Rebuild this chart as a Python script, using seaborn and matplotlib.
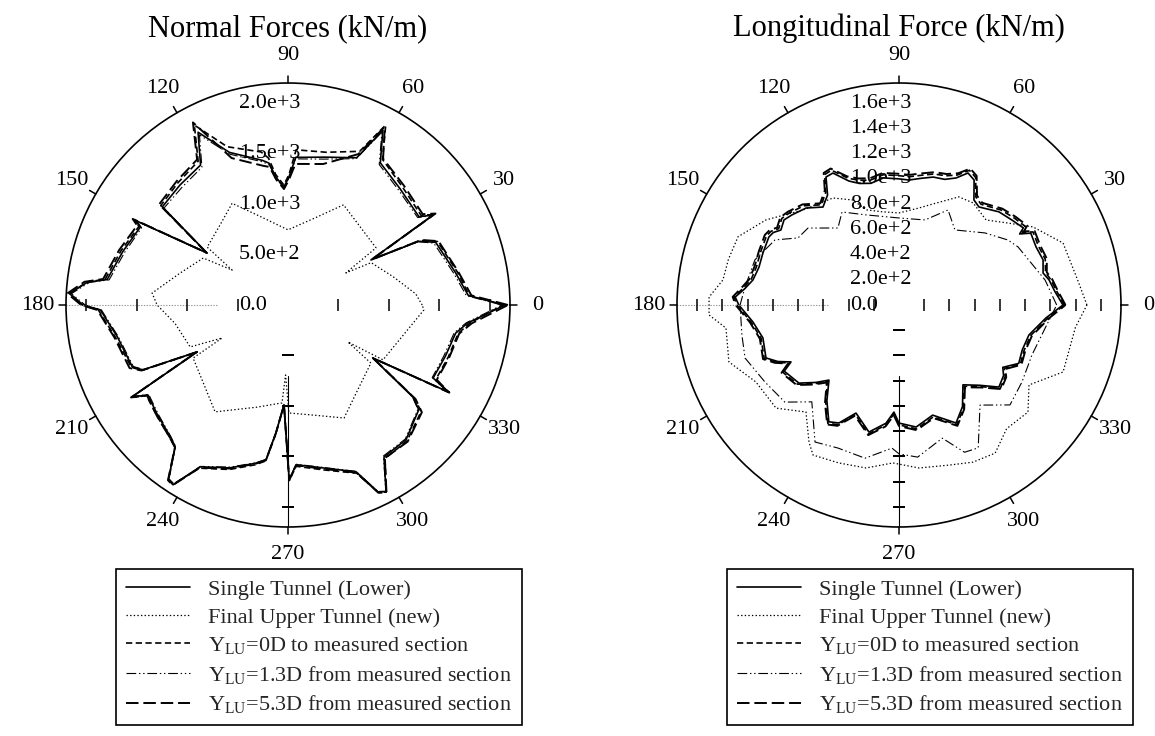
import numpy as np
import matplotlib
matplotlib.use("Agg")
import matplotlib.pyplot as plt
from matplotlib.lines import Line2D
from matplotlib.transforms import offset_copy
import seaborn as sns

# ---------------- Normal forces (kN/m) ----------------
N_ANG = [0, 3, 11, 23, 26, 28.5, 31.8, 34, 46, 57,
         61.5, 65, 76, 87, 89.6, 92, 95.4, 97.6, 100, 111,
         117.5, 122, 132, 142, 147.3, 151, 152.2, 162, 172, 173.5,
         177, 180, 181.5, 190.6, 201.7, 204.1, 207.3, 210.5, 212.7, 220,
         228.2, 231.5, 235.6, 237.4, 241.5, 250.4, 258.5, 261.9, 264.6, 267.7,
         270.4, 272.9, 282, 292.2, 295.7, 297.7, 302.3, 311.2, 321.3, 323.6,
         328, 331.5, 333.3, 342, 350.5, 354.3, 360]
N_SINGLE = [2150, 1790, 1690, 1590, 1440, 935, 1690, 1565, 1600, 1680,
            1970, 1610, 1510, 1465, 1267, 1170, 1273, 1418, 1455, 1620,
            1930, 1635, 1600, 1580, 955, 1730, 1655, 1720, 1810, 2000,
            2170, 2030, 1860, 1720, 1660, 1575, 1015, 1795, 1650, 1690,
            1750, 1795, 2100, 2115, 1825, 1713, 1600, 1550, 1275, 990,
            1733, 1585, 1650, 1785, 2055, 2090, 1780, 1775, 1660, 1540,
            990, 1800, 1610, 1640, 1685, 1790, 2150]
N_ZERO = [2130, 1800, 1710, 1610, 1460, 950, 1700, 1590, 1630, 1720,
          2030, 1680, 1560, 1540, 1290, 1190, 1300, 1470, 1540, 1680,
          2010, 1680, 1630, 1600, 960, 1740, 1670, 1740, 1830, 2010,
          2160, 2040, 1880, 1740, 1670, 1585, 1020, 1800, 1665, 1700,
          1760, 1800, 2090, 2105, 1840, 1730, 1615, 1560, 1280, 995,
          1740, 1600, 1670, 1800, 2060, 2095, 1800, 1790, 1690, 1560,
          1000, 1810, 1640, 1670, 1710, 1810, 2130]
N_13D = [2120, 1770, 1670, 1570, 1430, 940, 1680, 1550, 1580, 1660,
         1950, 1600, 1490, 1450, 1255, 1160, 1265, 1400, 1440, 1600,
         1900, 1610, 1570, 1560, 950, 1710, 1640, 1700, 1790, 1980,
         2150, 2010, 1850, 1710, 1650, 1565, 1010, 1785, 1640, 1680,
         1745, 1790, 2095, 2110, 1820, 1705, 1595, 1545, 1270, 990,
         1730, 1580, 1645, 1780, 2050, 2085, 1770, 1765, 1650, 1530,
         990, 1795, 1600, 1625, 1670, 1775, 2120]
N_53D = [2180, 1820, 1720, 1620, 1470, 945, 1720, 1610, 1650, 1730,
         2010, 1650, 1440, 1400, 1240, 1150, 1250, 1380, 1400, 1560,
         2040, 1700, 1650, 1620, 960, 1760, 1690, 1760, 1850, 2030,
         2190, 2050, 1890, 1750, 1690, 1590, 1015, 1805, 1660, 1700,
         1760, 1800, 2105, 2120, 1835, 1720, 1605, 1555, 1275, 990,
         1735, 1590, 1660, 1795, 2065, 2100, 1795, 1800, 1700, 1570,
         995, 1820, 1650, 1680, 1720, 1830, 2180]
N_UP_ANG = [0, 5, 15, 27, 29, 33, 47.5, 61, 72.3, 90,
            107.3, 118.8, 130.4, 144.4, 148, 151, 163.5, 175, 180, 189.3,
            203.2, 206.6, 209.2, 223.6, 235.7, 253, 266.5, 268, 270.5, 284.2,
            296.4, 309, 325, 328.3, 330, 345.4, 357.9, 360]
N_UPPER = [1330, 1270, 1080, 925, 656, 1040, 1055, 1135, 910, 745,
           918, 1150, 1040, 985, 653, 960, 1115, 1352, 1297, 1134,
           1055, 730, 1077, 1148, 1282, 1059, 972, 694, 1070, 1128,
           1250, 1092, 1003, 698, 1087, 1181, 1347, 1330]

# ---------------- Longitudinal force (kN/m) ----------------
L_ANG = [0, 5, 9.5, 12.5, 17.4, 23, 28.6, 30.5, 31.8, 37,
         43, 50.8, 54.5, 59, 62.4, 65.8, 70, 75, 80, 85.4,
         90, 97, 103, 108, 112, 116.6, 119.7, 123, 127.8, 133.8,
         140, 143.5, 147.6, 150, 152.4, 159, 165, 170.3, 174, 177.2,
         180, 186.6, 193.6, 201.7, 205, 207.8, 210, 218, 223, 227,
         233, 239, 243, 248.3, 256.7, 263.7, 267.3, 270, 278, 287,
         295.8, 302, 308.7, 315, 320.6, 326, 329, 334, 340, 347,
         355, 360]
L_SINGLE = [1300, 1240, 1206, 1170, 1197, 1180, 1190, 1110, 1160, 1120,
            1083, 1003, 1023, 1156, 1181, 1104, 1060, 1050, 1020, 994,
            1000, 1015, 990, 1013, 1060, 1170, 1168, 1040, 983, 1065,
            1110, 1134, 1109, 1150, 1164, 1155, 1150, 1175, 1230, 1300,
            1270, 1166, 1110, 1135, 1060, 968, 1050, 1006, 900, 814,
            950, 1080, 1050, 922, 1035, 943, 850, 936, 977, 913,
            1039, 950, 811, 900, 1025, 1000, 960, 1056, 1040, 1057,
            1170, 1300]
L_ZERO = [1310, 1255, 1220, 1190, 1215, 1200, 1210, 1135, 1180, 1145,
          1105, 1030, 1050, 1180, 1205, 1130, 1090, 1075, 1045, 1020,
          1025, 1040, 1015, 1040, 1085, 1195, 1190, 1065, 1005, 1090,
          1135, 1155, 1130, 1170, 1185, 1175, 1170, 1190, 1245, 1310,
          1285, 1180, 1125, 1150, 1075, 985, 1065, 1020, 915, 830,
          965, 1095, 1065, 935, 1050, 958, 865, 950, 992, 928,
          1054, 965, 826, 915, 1040, 1015, 975, 1070, 1055, 1072,
          1185, 1310]
L_53D = [1320, 1265, 1232, 1200, 1228, 1215, 1225, 1150, 1195, 1160,
         1120, 1045, 1065, 1195, 1220, 1145, 1105, 1090, 1060, 1035,
         1040, 1055, 1030, 1055, 1100, 1210, 1205, 1080, 1020, 1105,
         1150, 1170, 1145, 1185, 1200, 1190, 1185, 1205, 1260, 1320,
         1295, 1190, 1135, 1160, 1085, 995, 1075, 1030, 925, 840,
         975, 1105, 1075, 945, 1060, 968, 875, 960, 1002, 938,
         1064, 975, 836, 925, 1050, 1025, 985, 1080, 1065, 1082,
         1195, 1320]
L_13D_ANG = [0, 9.7, 26, 30.8, 40, 53.3, 62.7, 73, 90, 110,
             121.5, 128.4, 139.8, 146.4, 152.3, 162.6, 173.3, 180, 190.8, 199,
             210, 220.4, 228, 238.5, 246.9, 257.5, 267.2, 270, 277, 288,
             294, 299, 309, 318, 328, 339.4, 351, 360]
L_13D = [1250, 1175, 1050, 1006, 889, 742, 848, 705, 690, 760,
         865, 779, 945, 961, 1110, 1197, 1229, 1260, 1268, 1291,
         1225, 1188, 1033, 1274, 1233, 1244, 1136, 1180, 1215, 1110,
         1278, 1295, 1021, 1184, 1150, 1126, 1173, 1250]
L_UP_ANG = [0, 8, 20.7, 30.2, 37, 44.3, 54, 61, 70, 78.4,
            90, 100, 109, 113.7, 121.7, 135.3, 147.4, 157, 165, 171.9,
            177.6, 183, 187.6, 198.5, 208.3, 220, 229, 236.7, 240.2, 249.2,
            258.6, 267.8, 277, 287.4, 295.2, 303, 311, 320.3, 328.4, 337.8,
            352.8, 360]
L_UPPER = [1490, 1430, 1390, 1230, 1080, 965, 1000, 980, 860, 785,
           730, 750, 798, 909, 997, 1071, 1252, 1386, 1400, 1410,
           1507, 1508, 1384, 1422, 1288, 1272, 1124, 1300, 1371, 1340,
           1318, 1253, 1302, 1330, 1377, 1400, 1300, 1329, 1210, 1405,
           1410, 1490]

ANGLE_TICKS = list(range(0, 360, 30))
N_RTICKS = [0, 500, 1000, 1500, 2000]
N_RLABELS = ["0.0", "5.0e+2", "1.0e+3", "1.5e+3", "2.0e+3"]
L_RTICKS = [0, 200, 400, 600, 800, 1000, 1200, 1400, 1600]
L_RLABELS = ["0.0", "2.0e+2", "4.0e+2", "6.0e+2", "8.0e+2",
             "1.0e+3", "1.2e+3", "1.4e+3", "1.6e+3"]

LABELS = ["Single Tunnel (Lower)",
          "Final Upper Tunnel (new)",
          r"$\mathrm{Y_{LU}}$=0D to measured section",
          r"$\mathrm{Y_{LU}}$=1.3D from measured section",
          r"$\mathrm{Y_{LU}}$=5.3D from measured section"]

sns.set_theme(style="white")
plt.rcParams['font.family'] = ['Liberation Serif', 'DejaVu Serif']
plt.rcParams['mathtext.fontset'] = 'custom'
plt.rcParams['mathtext.rm'] = 'Liberation Serif'
plt.rcParams['lines.scale_dashes'] = False

# linestyle, linewidth for each series (same order as LABELS)
STYLES = [("-", 1.2),
          ((0, (1, 1.6)), 0.9),
          ((0, (4.5, 2.5)), 1.2),
          ((0, (7, 2, 1, 2, 1, 2)), 0.8),
          ((0, (9, 3.5)), 1.4)]

W, H = 1155, 736
fig = plt.figure(figsize=(W / 100, H / 100), dpi=100)


def draw_panel(cx, title, rmax, series, rticks, rlabels, r0, legend_x):
    rad = 222
    ax = fig.add_axes([(cx - rad) / W, (H - 305 - rad) / H, 2 * rad / W, 2 * rad / H],
                      projection="polar")
    for (ang, vals), lab, (ls, lw) in zip(series, LABELS, STYLES):
        sns.lineplot(x=np.deg2rad(ang), y=vals, ax=ax, sort=False, estimator=None,
                     color="black", linestyle=ls, linewidth=lw, label=lab)

    ax.set_ylim(0, rmax)
    ax.set_yticks([])
    ax.grid(False)
    ax.set_xlabel("")
    ax.set_ylabel("")
    ax.set_xticks(np.deg2rad(ANGLE_TICKS))
    ax.set_xticklabels([str(a) for a in ANGLE_TICKS])
    ax.tick_params(axis="x", length=0, pad=13, labelsize=16, colors="black")
    ax.spines["polar"].set_color("black")
    ax.spines["polar"].set_linewidth(1.2)

    # outward angle ticks on the circle
    for t in np.deg2rad(ANGLE_TICKS):
        ax.plot([t, t], [rmax, rmax * 1.032], color="black", lw=1.1, clip_on=False)

    # radial guide lines along 180 and 270 deg
    ax.plot([np.pi, np.pi], [r0, rmax], color="0.6", lw=0.8, ls=(0, (1, 1)))
    ax.plot([1.5 * np.pi, 1.5 * np.pi], [r0, rmax], color="black", lw=0.8)

    # radial tick marks along 0, 180, 270 deg
    rt = np.array(rticks[1:], dtype=float)
    ax.plot(np.zeros_like(rt), rt, ls="none", marker="|", ms=9, mew=1.1, color="black")
    ax.plot(np.full_like(rt, np.pi), rt, ls="none", marker="|", ms=9, mew=1.1, color="black")
    ax.plot(np.full_like(rt, 1.5 * np.pi), rt, ls="none", marker="_", ms=9, mew=1.1,
            color="black")

    # radial labels along the 90 deg line
    trans = offset_copy(ax.transData, fig=fig, x=-49, y=0, units="dots")
    for r, lab in zip(rticks, rlabels):
        ax.text(np.pi / 2, r, lab, transform=trans, ha="left", va="center",
                fontsize=16, color="black")

    ax.set_title(title, fontsize=22, y=1.105, pad=0, color="black")

    handles = [Line2D([], [], color="black", linestyle=ls, linewidth=lw) for ls, lw in STYLES]
    leg = ax.legend(handles, LABELS, loc="upper left",
                    bbox_to_anchor=(legend_x / W, 1 - 569 / H),
                    bbox_transform=fig.transFigure, borderaxespad=0,
                    frameon=True, fancybox=False, framealpha=1, edgecolor="black",
                    fontsize=16, handlelength=2.9, handletextpad=0.8,
                    labelspacing=0.34, borderpad=0.45)
    leg.get_frame().set_linewidth(1.2)
    return ax


draw_panel(288, "Normal Forces (kN/m)", 2200,
           [(N_ANG, N_SINGLE), (N_UP_ANG, N_UPPER), (N_ANG, N_ZERO),
            (N_ANG, N_13D), (N_ANG, N_53D)],
           N_RTICKS, N_RLABELS, 700, 116)

draw_panel(899, "Longitudinal Force (kN/m)", 1760,
           [(L_ANG, L_SINGLE), (L_UP_ANG, L_UPPER), (L_ANG, L_ZERO),
            (L_13D_ANG, L_13D), (L_ANG, L_53D)],
           L_RTICKS, L_RLABELS, 560, 727)

fig.savefig("out.png", dpi=100, facecolor="white")
